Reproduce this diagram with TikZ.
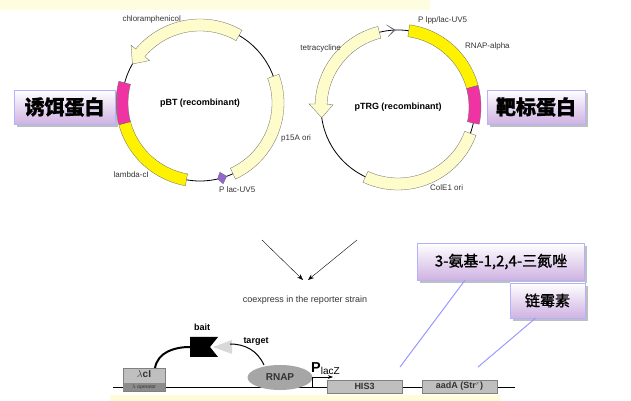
\documentclass[tikz,border=0pt]{standalone}
\usepackage{fontspec}
\setmainfont{Liberation Sans}
\newfontfamily\cjk{Noto Sans CJK SC}[FakeBold=1.2]
\usetikzlibrary{arrows.meta,shadows,calc,shapes.geometric}
\begin{document}
\begin{tikzpicture}[x=1pt, y=1pt,
    gene/.style = {draw=black!60, line width=0.3pt},
    cnbox/.style = {draw=blue!30, top color=white, bottom color=blue!25!violet!30, drop shadow, inner sep=2pt, font=\cjk\bfseries\fontsize{20}{22}\selectfont},
    lab/.style = {font=\fontsize{8}{9}\selectfont, text=black!80, inner sep=1pt},
    box/.style = {draw=black!50, fill=black!25, inner sep=0pt, font=\bfseries\small, text=black!80},
    pointer/.style = {blue!40, line width=1pt}]
	\useasboundingbox (0,0) rectangle (631,401);
	% pale bands
	\fill[yellow!12] (0,391) rectangle (430,401);
	\fill[yellow!15] (110,0) rectangle (500,6);
	% left plasmid
	\coordinate (pbt) at (200,298);
	\draw[thick] (pbt) circle (78);
	\fill[gene, fill=yellow!20] ($(pbt)+(20:72)$) arc (20:-65:72) -- ($(pbt)+(-65:84)$) arc (-65:20:84) -- cycle;
	\fill[gene, fill=yellow!20] ($(pbt)+(60:72)$) arc (60:140:72) -- ($(pbt)+(140:66)$) -- ($(pbt)+(150:78)$) -- ($(pbt)+(140:90)$) -- ($(pbt)+(140:84)$) arc (140:60:84) -- cycle;
	\fill[gene, fill=yellow] ($(pbt)+(195:72)$) arc (195:260:72) -- ($(pbt)+(260:84)$) arc (260:195:84) -- cycle;
	\fill[gene, fill=magenta!80] ($(pbt)+(165:72)$) arc (165:195:72) -- ($(pbt)+(195:84)$) arc (195:165:84) -- cycle;
	\fill[gene, fill=blue!40!violet!60] ($(pbt)+(-74:72)$) -- ($(pbt)+(-70:78)$) -- ($(pbt)+(-74:84)$) -- ($(pbt)+(-77:78)$) -- cycle;
	\node[font=\bfseries\small] (pbtname) at (pbt) {pBT (recombinant)};
	\node[lab, anchor=east] (cm) at (182,382) {chloramphenicol};
	\node[lab, anchor=west] (p15a) at (280,263) {p15A ori};
	\node[lab, anchor=east] (lci) at (150,226) {lambda-cI};
	\node[lab, anchor=west] (plac) at (218,211) {P lac-UV5};
	\node[cnbox, minimum width=101pt, minimum height=34pt] (bait) at (64.5,294) {诱饵蛋白};
	% right plasmid
	\coordinate (ptrg) at (398,294);
	\draw[thick] (ptrg) circle (77);
	\fill[gene, fill=yellow!20] ($(ptrg)+(-20:71)$) arc (-20:-115:71) -- ($(ptrg)+(-115:83)$) arc (-115:-20:83) -- cycle;
	\fill[gene, fill=yellow!20] ($(ptrg)+(104:71)$) arc (104:178:71) -- ($(ptrg)+(178:65)$) -- ($(ptrg)+(188:77)$) -- ($(ptrg)+(178:89)$) -- ($(ptrg)+(178:83)$) arc (178:104:83) -- cycle;
	\fill[gene, fill=yellow] ($(ptrg)+(82:71)$) arc (82:15:71) -- ($(ptrg)+(15:83)$) arc (15:82:83) -- cycle;
	\fill[gene, fill=magenta!80] ($(ptrg)+(15:71)$) arc (15:-12:71) -- ($(ptrg)+(-12:83)$) arc (-12:15:83) -- cycle;
	\fill[gene, fill=blue!40!violet!60] ($(ptrg)+(98:71)$) -- ($(ptrg)+(92:77)$) -- ($(ptrg)+(98:83)$) -- ($(ptrg)+(93:77)$) -- cycle;
	\node[font=\bfseries\small] (ptrgname) at (ptrg) {pTRG (recombinant)};
	\node[lab, anchor=east] (tet) at (342,353) {tetracycline};
	\node[lab, anchor=west] (plpp) at (417,381) {P lpp/lac-UV5};
	\node[lab, anchor=west] (rnapa) at (464,355) {RNAP-alpha};
	\node[lab, anchor=west] (cole) at (429,213) {ColE1 ori};
	\node[cnbox, minimum width=98pt, minimum height=34pt] (target) at (536,294) {靶标蛋白};
	% merging arrows
	\draw[-{Stealth[length=6pt]}] (262,161) -- (303,121);
	\draw[-{Stealth[length=6pt]}] (357,161) -- (308,121);
	\node[font=\small, text=black!80] (coex) at (305,101) {coexpress in the reporter strain};
	% reporter
	\draw[thick] (113,14) -- (515,14);
	\node[box, minimum width=42pt, minimum height=23pt] (lcI) at (144,21.5) {};
	\fill[black!45] (123,10) rectangle (165,18);
	\node[font=\bfseries, text=black!80] at (144,27) {$\lambda$cI};
	\node[font=\fontsize{5}{5}\selectfont, text=black!80] at (144,14) {$\lambda$ operator};
	\node[ellipse, fill=black!35, minimum width=65pt, minimum height=25pt, inner sep=0pt, font=\bfseries, text=black!80] (rnap) at (280,23.5) {RNAP};
	\draw[thick, -{Stealth[length=5pt]}] (312,14) -- (312,24) -- (333,24);
	\node[font=\bfseries\Large, anchor=south west, inner sep=0pt] (placz) at (311,26) {P$_{\mathrm{lacZ}}$};
	\node[box, minimum width=75pt, minimum height=13pt] (his3) at (364.5,14.5) {HIS3};
	\node[box, minimum width=75pt, minimum height=13pt] (aada) at (459.5,14.5) {aadA (Str$^r$)};
	\fill[black] (190,64) -- (218,64) -- (210,54) -- (218,44) -- (190,44) -- cycle;
	\fill[black!15] (213,54) -- (232,61) -- (232,47) -- cycle;
	\draw[line width=2pt] (155,33) to[out=80, in=180] (190,54);
	\draw[line width=1pt] (230,57) to[out=0, in=115] (264,36);
	\node[font=\bfseries\small] (baitlab) at (202,74) {bait};
	\node[font=\bfseries\small] (targetlab) at (256,59) {target};
	% chemicals
	\node[cnbox, font=\cjk\fontsize{15}{16}\selectfont, minimum width=167pt, minimum height=37pt] (atz) at (501,139.5) {3-氨基-1,2,4-三氮唑};
	\node[cnbox, font=\cjk\fontsize{15}{16}\selectfont, minimum width=75pt, minimum height=35pt] (strep) at (547.5,100.5) {链霉素};
	\draw[pointer] (atz.south) ++(-36,0) -- (400,34);
	\draw[pointer] (strep.south) ++(-12,0) -- (478,34);
\end{tikzpicture}
\end{document}
